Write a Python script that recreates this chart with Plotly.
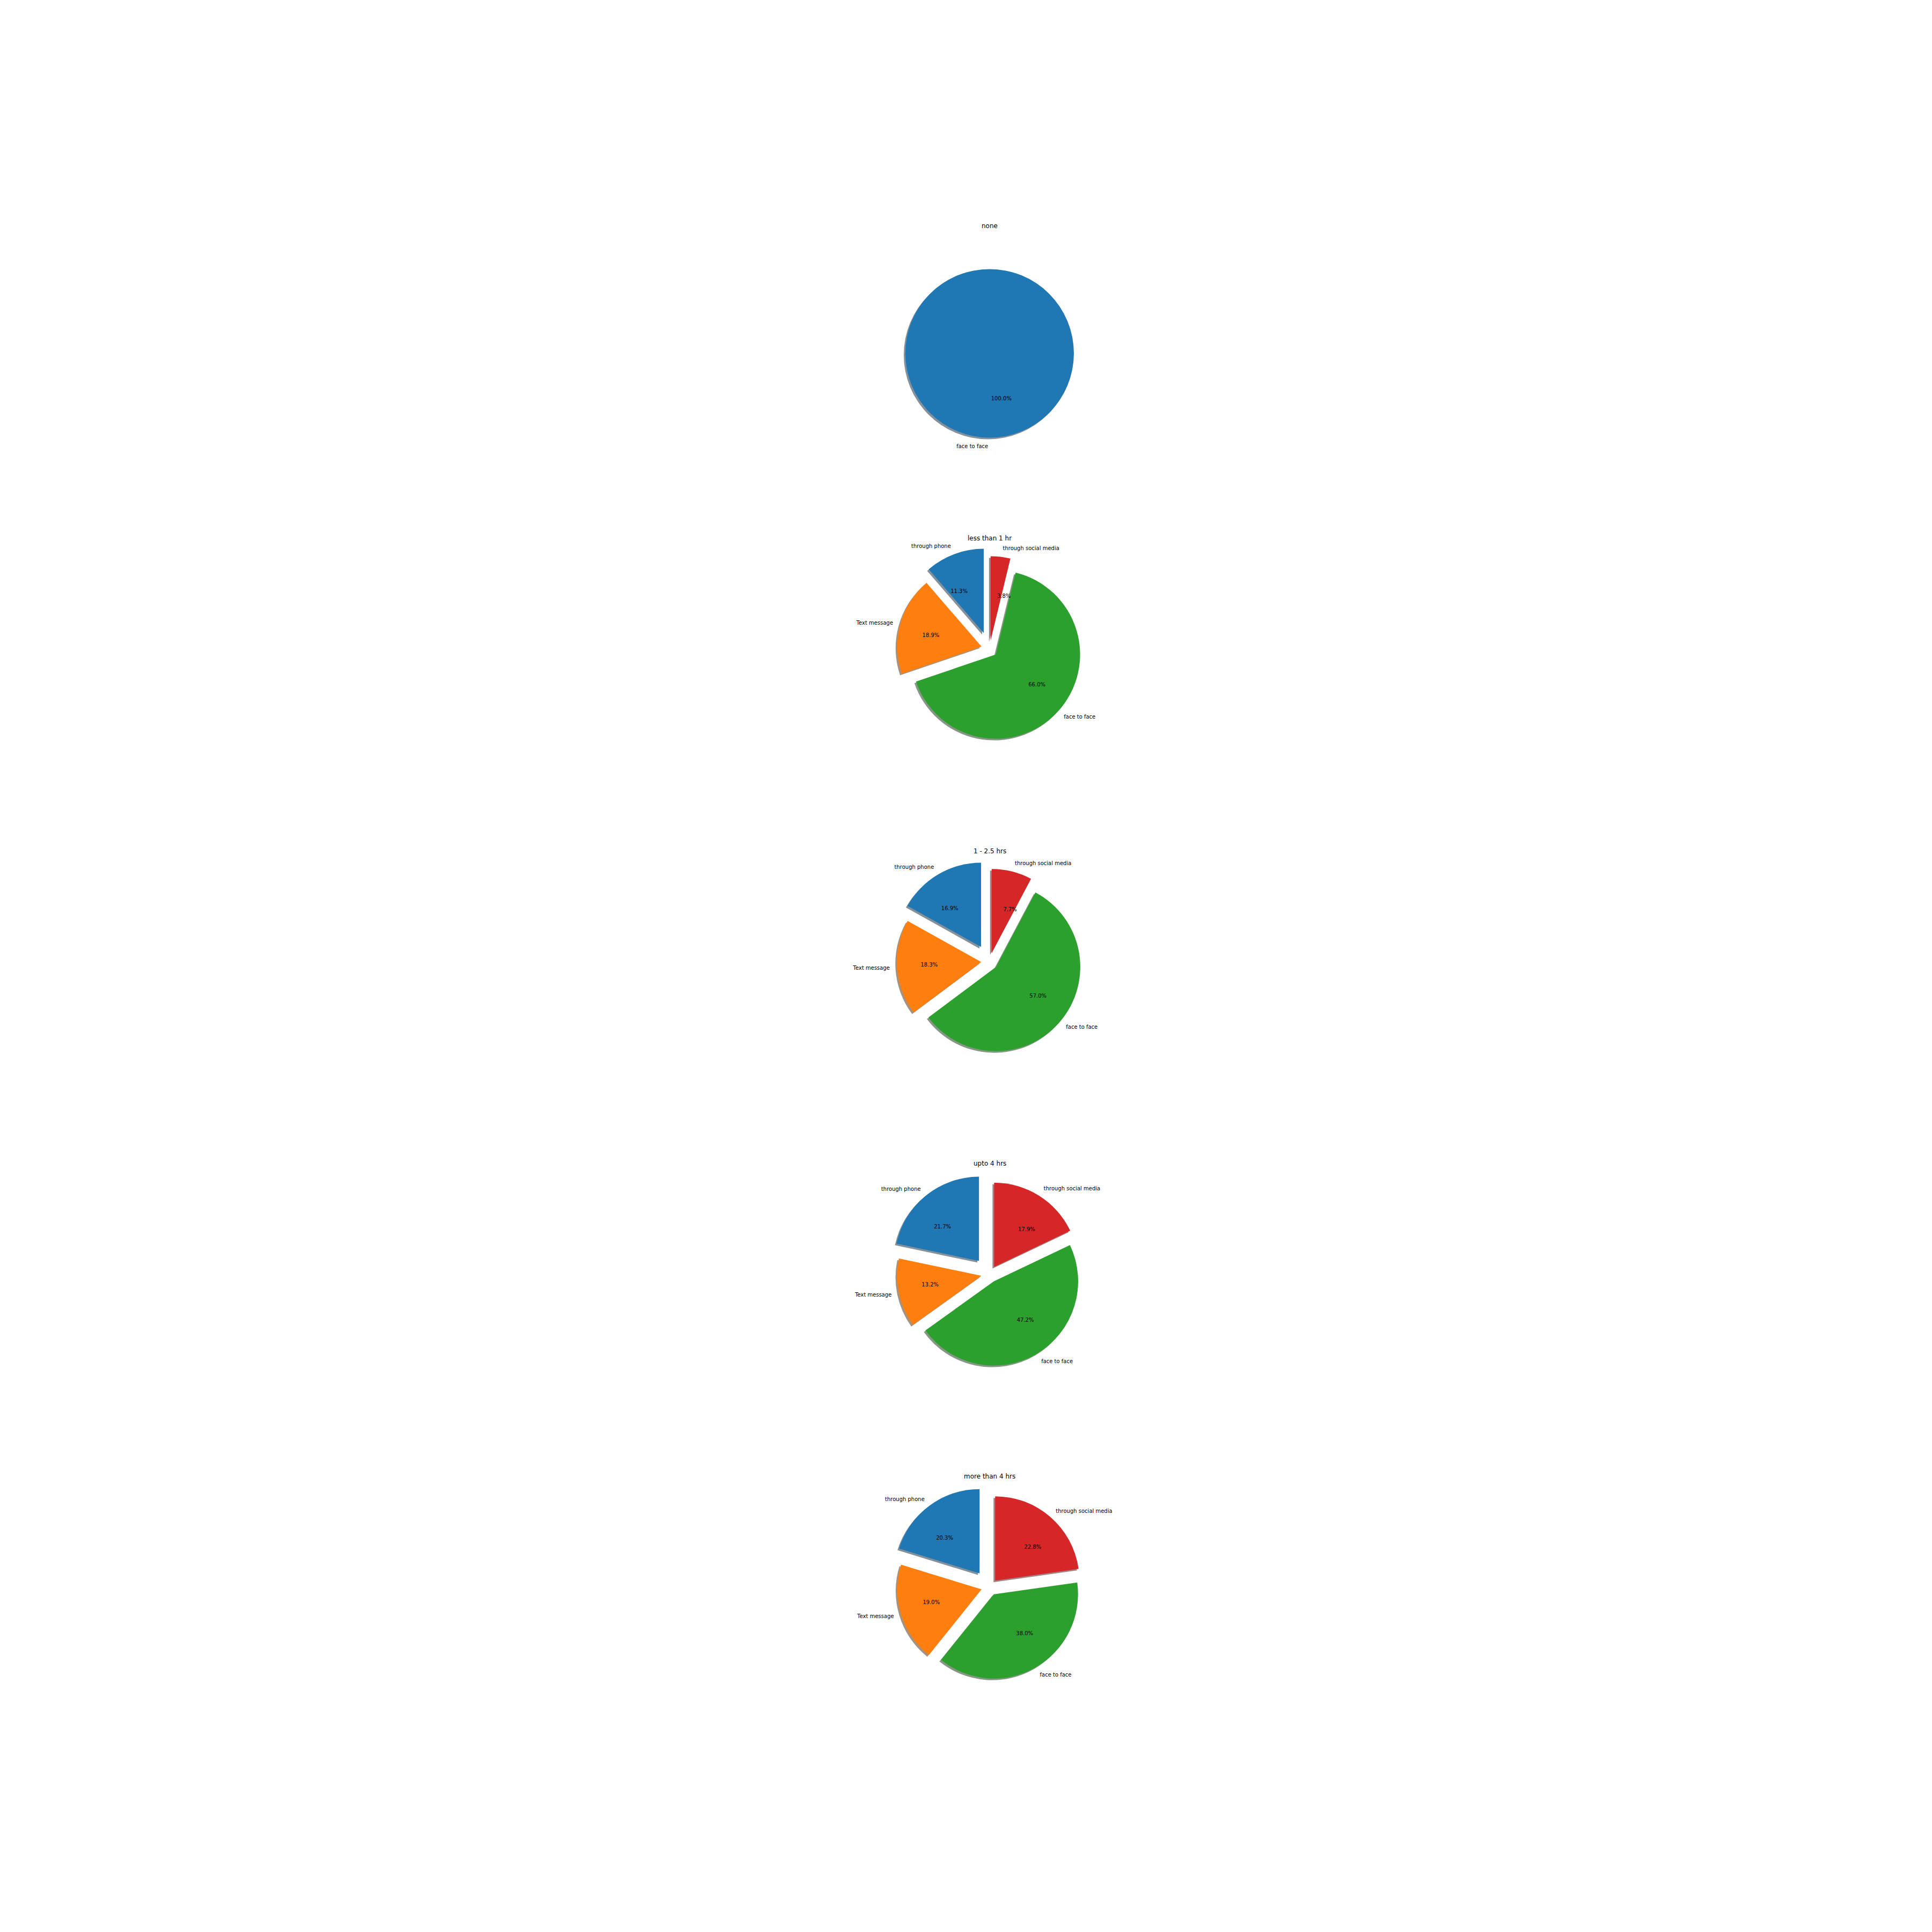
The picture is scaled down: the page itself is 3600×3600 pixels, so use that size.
import plotly.graph_objects as go

# usage groups (one pie each)
groups = ["none", "less than 1 hr", "1 - 2.5 hrs", "upto 4 hrs", "more than 4 hrs"]

# slice labels per group
labels_none = ["face to face"]
labels_all = ["through phone", "Text message", "face to face", "through social media"]

# respondent counts per slice
counts_none = [4]
counts_lt1 = [6, 10, 35, 2]
counts_1_25 = [24, 26, 81, 11]
counts_upto4 = [23, 14, 50, 19]
counts_gt4 = [16, 15, 30, 18]

pie_labels = [labels_none, labels_all, labels_all, labels_all, labels_all]
pie_values = [counts_none, counts_lt1, counts_1_25, counts_upto4, counts_gt4]

colors = ["#1f77b4", "#ff7f0e", "#2ca02c", "#d62728"]
explode = [0.2, 0.1, 0.1, 0.1]

W = H = 3600
off = 8  # page body margin
cx = 1844 - off
centers_y = [y - off for y in [627, 1209, 1791.5, 2374, 2957]]
R = 157.0  # pie radius in px
font = "DejaVu Sans"


def shadow(c):
    c = c.lstrip("#")
    r, g, b = (int(c[i:i + 2], 16) for i in (0, 2, 4))
    return "rgba(%d,%d,%d,0.5)" % (r * 0.3, g * 0.3, b * 0.3)


def dom(x0, y0, half):
    return dict(x=[(x0 - half) / W, (x0 + half) / W],
                y=[1 - (y0 + half) / H, 1 - (y0 - half) / H])


fig = go.Figure()
annotations = []
for name, labs, vals, cy in zip(groups, pie_labels, pie_values, centers_y):
    n = len(vals)
    # first slice starts at 12 o'clock going anticlockwise (matplotlib startangle=90)
    # -> same thing as reversed order drawn clockwise from 12
    cols = colors[:n][::-1]
    pulls = explode[:n][::-1]
    common = dict(labels=labs[::-1], values=vals[::-1], sort=False, direction="clockwise",
                  hoverinfo="skip", showlegend=False)
    clear = dict(colors=["rgba(0,0,0,0)"] * n, line=dict(width=0))

    def scaled(k):
        # same wedge offsets, radius scaled by k
        p = [v / k for v in pulls]
        return p, R * k * (1 + max(p))

    # shadow
    fig.add_trace(go.Pie(**common, rotation=0, pull=pulls, domain=dom(cx - 3, cy + 3, R * 1.2),
                         textinfo="none",
                         marker=dict(colors=[shadow(c) for c in cols], line=dict(width=0))))
    # wedges
    fig.add_trace(go.Pie(**common, rotation=0, pull=pulls, domain=dom(cx, cy, R * 1.2),
                         textinfo="none", marker=dict(colors=cols, line=dict(width=0))))
    # percentages (~0.6 radius)
    p, h = scaled(0.5)
    fig.add_trace(go.Pie(**common, rotation=0, pull=p, domain=dom(cx, cy, h),
                         texttemplate="%{percent:.1%}", textposition="outside",
                         outsidetextfont=dict(family=font, size=10, color="black"), marker=clear))
    # labels (~1.1 radius); tiny rotation so a label straight below hangs to the left
    p, h = scaled(1.07)
    fig.add_trace(go.Pie(**common, rotation=0.01, pull=p, domain=dom(cx, cy, h),
                         textinfo="label", textposition="outside",
                         outsidetextfont=dict(family=font, size=10, color="black"), marker=clear))
    annotations.append(dict(text=name, x=cx / W, y=1 - (cy - 206) / H, xref="paper", yref="paper",
                            showarrow=False, xanchor="center", yanchor="middle",
                            font=dict(family=font, size=12, color="black")))

fig.update_layout(width=W, height=H, margin=dict(l=0, r=0, t=0, b=0),
                  paper_bgcolor="white", plot_bgcolor="white",
                  annotations=annotations, font=dict(family=font, color="black"))

fig.write_html("out.html")
